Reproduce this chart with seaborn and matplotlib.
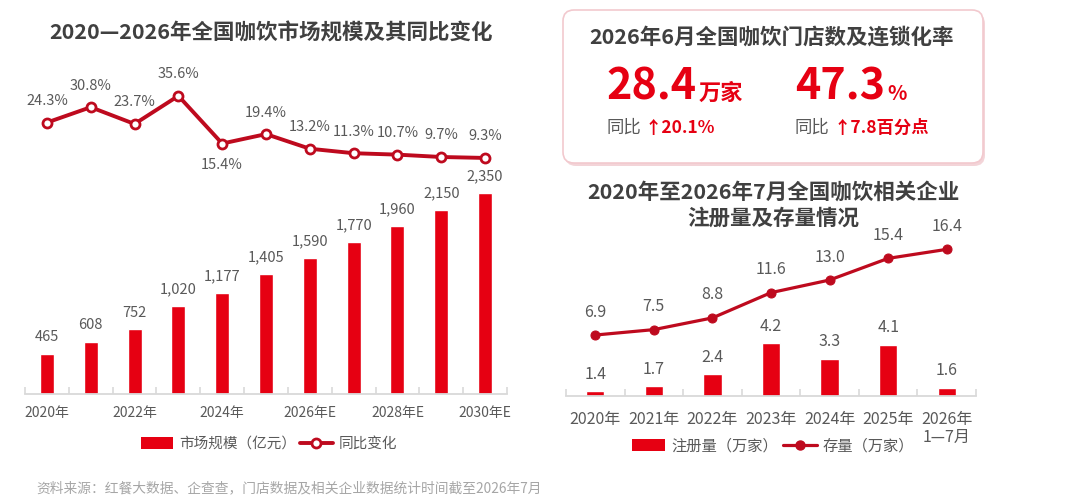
import matplotlib
matplotlib.use("Agg")
import matplotlib.pyplot as plt
import seaborn as sns
import numpy as np
import pandas as pd
from matplotlib.patches import FancyBboxPatch, Patch
from matplotlib.lines import Line2D

# ---- data ----
market_years = ["2020年", "2021年", "2022年", "2023年", "2024年", "2025年",
                "2026年E", "2027年E", "2028年E", "2029年E", "2030年E"]
market_size = [465, 608, 752, 1020, 1177, 1405, 1590, 1770, 1960, 2150, 2350]
market_yoy = [24.3, 30.8, 23.7, 35.6, 15.4, 19.4, 13.2, 11.3, 10.7, 9.7, 9.3]

reg_years = ["2020年", "2021年", "2022年", "2023年", "2024年", "2025年", "2026年\n1—7月"]
reg_new = [1.4, 1.7, 2.4, 4.2, 3.3, 4.1, 1.6]
reg_stock = [6.9, 7.5, 8.8, 11.6, 13.0, 15.4, 16.4]

stores = "28.4"
stores_yoy = "20.1%"
chain_rate = "47.3"
chain_yoy = "7.8"

RED = "#E60012"
DARK = "#BE0A1E"
GRAY = "#595959"
TITLE = "#404040"
AXIS = "#D9D9D9"

sns.set_theme(style="white")
plt.rcParams['font.family'] = ['Noto Sans CJK SC', 'DejaVu Sans']
plt.rcParams['axes.unicode_minus'] = False

fig = plt.figure(figsize=(10.8, 5.04), dpi=100)
fig.patch.set_facecolor("white")

# background axes in pixel coordinates for texts and the box
bg = fig.add_axes([0, 0, 1, 1])
bg.set_xlim(0, 1080)
bg.set_ylim(504, 0)
bg.axis("off")


def style_axis(ax, labels, fontsize, pad):
    n = len(labels)
    for s in ["top", "left", "right"]:
        ax.spines[s].set_visible(False)
    ax.spines["bottom"].set_color(AXIS)
    ax.spines["bottom"].set_linewidth(1.3)
    ax.set_xlim(-0.5, n - 0.5)
    ax.set_xticks(range(n))
    ax.set_xticklabels(labels, fontsize=fontsize, color=GRAY, linespacing=1.05)
    ax.set_xticks(np.arange(n + 1) - 0.5, minor=True)
    ax.tick_params(axis="x", which="major", length=0, pad=pad)
    ax.tick_params(axis="x", which="minor", length=5, width=1.2,
                   direction="in", color=AXIS, bottom=True)
    ax.set_yticks([])
    ax.set_xlabel("")
    ax.set_ylabel("")
    ax.set_facecolor("none")


# ---- left chart: market size + yoy ----
df1 = pd.DataFrame({"year": market_years, "size": market_size, "yoy": market_yoy})
ax1 = fig.add_axes([25 / 1080, (504 - 393.7) / 504, 482 / 1080, 333.7 / 504])
sns.barplot(data=df1, x="year", y="size", color=RED, width=0.32,
            saturation=1, ax=ax1)
ax1.set_ylim(0, 3903)
ax1.bar_label(ax1.containers[0], labels=[f"{v:,}" for v in market_size],
              padding=7, fontsize=10.5, color=GRAY)
style_axis(ax1, [y if i % 2 == 0 else "" for i, y in enumerate(market_years)], 10, 8.5)

ax1b = ax1.twinx()
sns.lineplot(x=np.arange(len(market_yoy)), y=market_yoy, ax=ax1b, color=DARK,
             lw=2.8, marker="o", markersize=6.5, markerfacecolor="white",
             markeredgecolor=DARK, markeredgewidth=2)
ax1b.set_ylim(-90.6, 50.8)
ax1b.set_yticks([])
ax1b.set_ylabel("")
for s in ax1b.spines.values():
    s.set_visible(False)
for i, v in enumerate(market_yoy):
    off = -15.5 if i == 4 else 15.5
    ax1b.annotate(f"{v}%", (i, v), xytext=(0, off), textcoords="offset points",
                  ha="center", va="center", fontsize=10.5, color=GRAY)

bg.text(271, 33, "2020—2026年全国咖饮市场规模及其同比变化", ha="center", va="center",
        fontsize=15.5, fontweight="bold", color=TITLE)

fig.legend(handles=[Patch(facecolor=RED, edgecolor="none"),
                    Line2D([], [], color=DARK, lw=2.8, marker="o", ms=6.5,
                           mfc="white", mec=DARK, mew=2)],
           labels=["市场规模（亿元）", "同比变化"], loc="center",
           bbox_to_anchor=(269 / 1080, 60 / 504), ncol=2, frameon=False,
           fontsize=10.5, handlelength=2.2, handleheight=0.8,
           handletextpad=0.4, columnspacing=0.3, labelcolor=GRAY)

# ---- right chart: registrations + stock ----
df2 = pd.DataFrame({"year": reg_years, "new": reg_new, "stock": reg_stock})
ax2 = fig.add_axes([566 / 1080, (504 - 396) / 504, 410 / 1080, 171 / 504])
sns.barplot(data=df2, x="year", y="new", color=RED, width=0.31,
            saturation=1, ax=ax2)
ax2.set_ylim(1.11, 11.1)
ax2.bar_label(ax2.containers[0], labels=[f"{v}" for v in reg_new],
              padding=6, fontsize=11.5, color=GRAY)
style_axis(ax2, reg_years, 11.5, 11)

ax2b = ax2.twinx()
sns.lineplot(x=np.arange(len(reg_stock)), y=reg_stock, ax=ax2b, color=DARK,
             lw=2.3, marker="o", markersize=6.5, markerfacecolor=DARK,
             markeredgecolor=DARK)
ax2b.set_ylim(0.14, 19.1)
ax2b.set_yticks([])
ax2b.set_ylabel("")
for s in ax2b.spines.values():
    s.set_visible(False)
for i, v in enumerate(reg_stock):
    ax2b.annotate(f"{v}", (i, v), xytext=(0, 16.5), textcoords="offset points",
                  ha="center", va="center", fontsize=11.5, color=GRAY)

bg.text(773, 192, "2020年至2026年7月全国咖饮相关企业", ha="center", va="center",
        fontsize=15.5, fontweight="bold", color=TITLE)
bg.text(773, 218, "注册量及存量情况", ha="center", va="center",
        fontsize=15.5, fontweight="bold", color=TITLE)

fig.legend(handles=[Patch(facecolor=RED, edgecolor="none"),
                    Line2D([], [], color=DARK, lw=2.3, marker="o", ms=6.5,
                           mfc=DARK, mec=DARK)],
           labels=["注册量（万家）", "存量（万家）"], loc="center",
           bbox_to_anchor=(773 / 1080, 58 / 504), ncol=2, frameon=False,
           fontsize=11, handlelength=2.2, handleheight=0.8,
           handletextpad=0.4, columnspacing=0.3, labelcolor=GRAY)

# ---- info box ----
shadow = FancyBboxPatch((565, 13), 420, 153, boxstyle="round,pad=0,rounding_size=11",
                        facecolor="#EBB8BE", edgecolor="none", alpha=0.6)
box = FancyBboxPatch((563, 10), 420, 153, boxstyle="round,pad=0,rounding_size=11",
                     facecolor="white", edgecolor="#F2C9CE", lw=1.2)
bg.add_patch(shadow)
bg.add_patch(box)
bg.text(772, 37, "2026年6月全国咖饮门店数及连锁化率", ha="center", va="center",
        fontsize=15.5, fontweight="bold", color=TITLE)

fig.canvas.draw()
rend = fig.canvas.get_renderer()


def after(t, gap, y, s, **kw):
    bb = t.get_window_extent(renderer=rend)
    x = bg.transData.inverted().transform((bb.x1, bb.y0))[0]
    return bg.text(x + gap, y, s, va="baseline", **kw)


t = bg.text(606, 100, stores, va="baseline", fontsize=31, fontweight="bold", color=RED)
after(t, 3, 100, "万家", fontsize=16, fontweight="bold", color=RED)
t = bg.text(795, 100, chain_rate, va="baseline", fontsize=31, fontweight="bold", color=RED)
after(t, 2, 100, "%", fontsize=14.5, fontweight="bold", color=RED)

t = bg.text(606, 133, "同比", va="baseline", fontsize=12.5, color=GRAY)
after(t, 4, 133, "↑" + stores_yoy, fontsize=12.5, fontweight="bold", color=RED)
t = bg.text(795, 133, "同比", va="baseline", fontsize=12.5, color=GRAY)
after(t, 4, 133, "↑" + chain_yoy + "百分点", fontsize=12.5, fontweight="bold", color=RED)

bg.text(36, 488, "资料来源：红餐大数据、企查查，门店数据及相关企业数据统计时间截至2026年7月",
        ha="left", va="center", fontsize=9.9, color="#A6A6A6")

fig.savefig("out.png", dpi=100, facecolor="white")
